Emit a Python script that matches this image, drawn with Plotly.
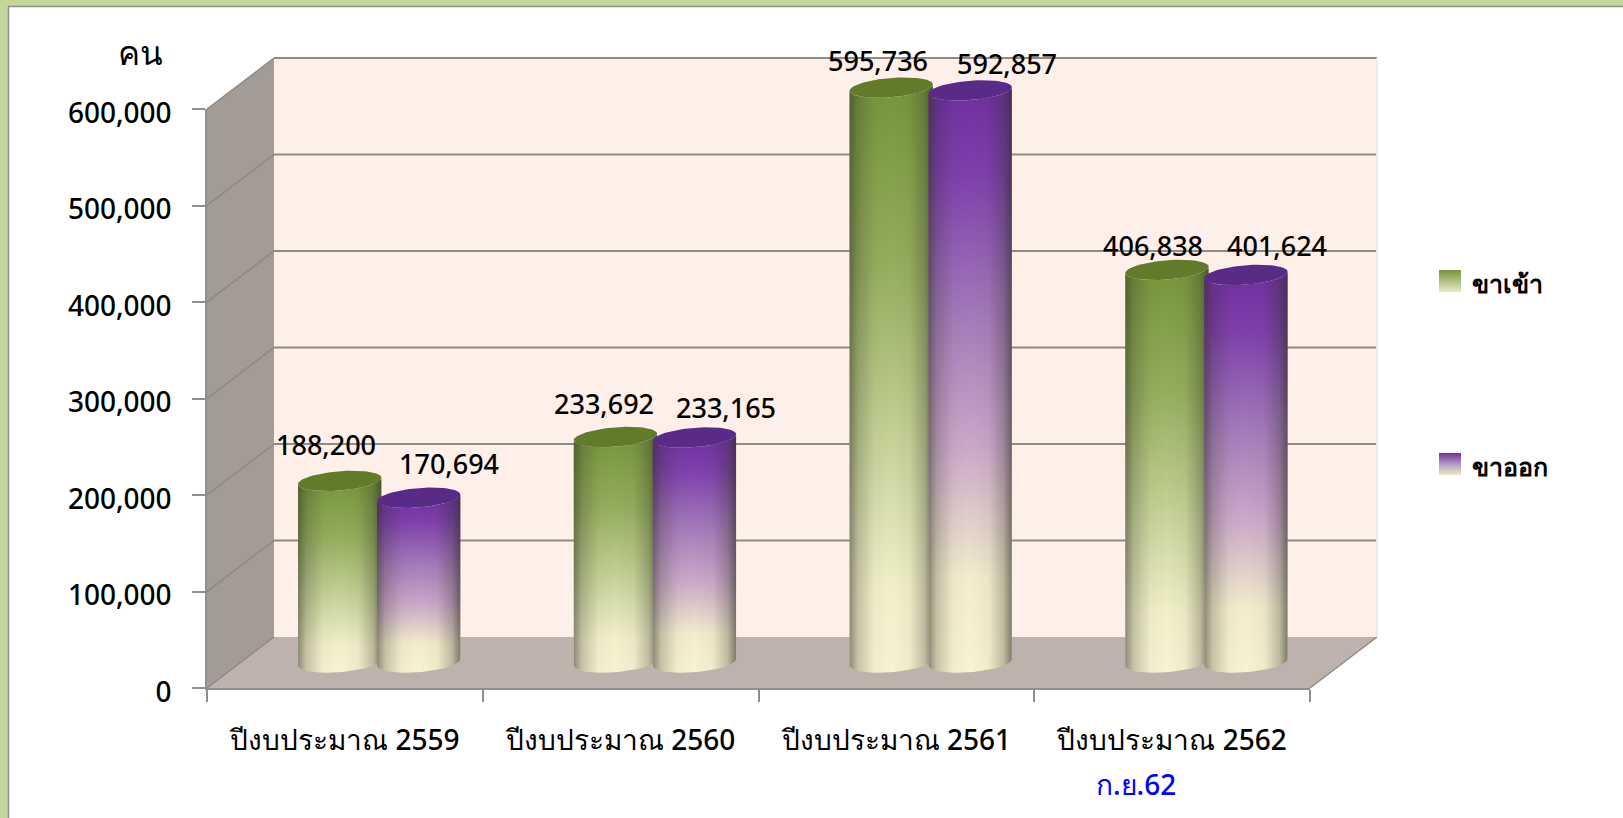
import math
import plotly.graph_objects as go

# ---- data ----
categories = ["ปีงบประมาณ 2559", "ปีงบประมาณ 2560", "ปีงบประมาณ 2561", "ปีงบประมาณ 2562"]
inbound = [188200, 233692, 595736, 406838]
outbound = [170694, 233165, 592857, 401624]
y_ticks = [0, 100000, 200000, 300000, 400000, 500000, 600000]
series_names = ["ขาเข้า", "ขาออก"]
unit_label = "คน"
note_label = "ก.ย.62"

# ---- styles ----
W, H = 1623, 818
L, R, T, B = 207, 1310, 109, 688
U = (R - L) / len(categories)      # px per category
V = (B - T) / max(y_ticks)         # px per person
DEPTH_X, DEPTH_Y = 67, 51          # px of the oblique depth
FONT = "Noto Sans, Tahoma, sans-serif"
WEIGHT = 500
INK = "#000000"
GRID = "#8f8b82"
WALL = "#feefe8"
SIDE = "#a39b94"
FLOOR = "#bdb2ac"
GREEN_SCALE = [[0, "#f7f3d3"], [0.14, "#f2f0ca"], [0.38, "#c8d39a"], [0.7, "#93ad5c"], [1, "#74953a"]]
PURPLE_SCALE = [[0, "#f8f3d2"], [0.16, "#f3edcc"], [0.38, "#cbaac9"], [0.62, "#a278b9"], [0.85, "#7f3fac"], [1, "#6f2fa0"]]
GREEN_TOP = "#617b2b"
PURPLE_TOP = "#5a2a87"
SHADE = [[0, "rgba(45,45,35,0.52)"], [0.1, "rgba(45,45,35,0.24)"], [0.3, "rgba(45,45,35,0.03)"],
         [0.5, "rgba(45,45,35,0)"], [0.72, "rgba(45,45,35,0.04)"], [0.9, "rgba(45,45,35,0.28)"],
         [1, "rgba(45,45,35,0.6)"]]
BAR_A, BAR_S, BAR_H = 39.5, 13.2, 10.2   # ellipse parameters, px
BAR_OFFSET = 39.5
GROUP_SHIFT = 0.8
label_shift_in = [(-14, -36), (-11, -33), (-13, -27), (-14, -24)]
label_shift_out = [(30, -34), (32, -30), (37, -27), (31, -29)]


def dx(px):
    return px / U


def dy(px):
    return px / V


def at_depth(xv, yv, depth):
    return xv + dx(DEPTH_X * depth), yv + dy(DEPTH_Y * depth)


def paper_x(px):
    return px / W


def paper_y(py):
    return 1 - py / H


def poly(xs, ys, color=None, line=None, width=0, gradient=None):
    kw = dict(x=xs, y=ys, mode="lines", hoverinfo="skip", showlegend=False,
              line=dict(color=line or "rgba(0,0,0,0)", width=width))
    if color or gradient:
        kw["fill"] = "toself"
    if color:
        kw["fillcolor"] = color
    if gradient:
        kw["fillgradient"] = gradient
    return go.Scatter(**kw)


fig = go.Figure()
n = len(categories)
top = max(y_ticks)

# walls and floor
c = [at_depth(0, 0, 1), at_depth(n, 0, 1), at_depth(n, top, 1), at_depth(0, top, 1)]
fig.add_trace(poly([p[0] for p in c] + [c[0][0]], [p[1] for p in c] + [c[0][1]], color=WALL))
s = [(0, 0), at_depth(0, 0, 1), at_depth(0, top, 1), (0, top)]
fig.add_trace(poly([p[0] for p in s] + [0], [p[1] for p in s] + [0], color=SIDE))
f = [(0, 0), (n, 0), at_depth(n, 0, 1), at_depth(0, 0, 1)]
fig.add_trace(poly([p[0] for p in f] + [0], [p[1] for p in f] + [0], color=FLOOR))

# grid
for v in y_ticks:
    a = at_depth(0, v, 1)
    b = at_depth(n, v, 1)
    if v:
        fig.add_trace(poly([a[0], b[0]], [a[1], b[1]], line=GRID, width=2))
    fig.add_trace(poly([0, a[0]], [v, a[1]], line="#8a857e", width=1.2))
e = at_depth(n, 0, 1)
fig.add_trace(poly([n, e[0]], [0, e[1]], line=GRID, width=1.5))
t1 = at_depth(n, top, 1)
fig.add_trace(poly([e[0], t1[0]], [e[1], t1[1]], line="#f2e8e0", width=2))


# cylinders
def cylinder(cx, value, scale, top_color):
    cx0, cy0 = at_depth(cx, 0, 0.5)
    t0 = math.atan2(BAR_S, BAR_A)
    ts = [t0 - math.pi + math.pi * i / 40 for i in range(41)]
    ex = [cx0 + dx(BAR_A * math.cos(t) + BAR_S * math.sin(t)) for t in ts]
    ey = [dy(BAR_H * math.sin(t)) for t in ts]
    bx = ex + ex[::-1] + [ex[0]]
    by = [cy0 + value + q for q in ey] + [cy0 + q for q in ey[::-1]] + [cy0 + value + ey[0]]
    fig.add_trace(poly(bx, by, gradient=dict(type="vertical", colorscale=scale)))
    fig.add_trace(poly(bx, by, gradient=dict(type="horizontal", colorscale=SHADE)))
    ts2 = [2 * math.pi * i / 80 for i in range(81)]
    tx = [cx0 + dx(BAR_A * math.cos(t) + BAR_S * math.sin(t)) for t in ts2]
    ty = [cy0 + value + dy(BAR_H * math.sin(t)) for t in ts2]
    fig.add_trace(poly(tx, ty, color=top_color))
    return cx0, cy0 + value


annotations = []


def value_label(x, y, v, shift):
    annotations.append(dict(x=x, y=y, xref="x", yref="y", text=f"{v:,}", showarrow=False,
                            xanchor="center", yanchor="middle", xshift=shift[0], yshift=-shift[1],
                            font=dict(family=FONT, size=27, color=INK, weight=WEIGHT)))


for i in range(n):
    centre = i + 0.5 + dx(GROUP_SHIFT)
    p = cylinder(centre - dx(BAR_OFFSET), inbound[i], GREEN_SCALE, GREEN_TOP)
    value_label(p[0], p[1], inbound[i], label_shift_in[i])
    q = cylinder(centre + dx(BAR_OFFSET), outbound[i], PURPLE_SCALE, PURPLE_TOP)
    value_label(q[0], q[1], outbound[i], label_shift_out[i])


# legend swatches (gradient squares) and labels
def px_x(px):
    return (px - L) / U


def px_y(py):
    return (B - py) / V


for name, scale, sy in zip(series_names,
                           [[[0, "#ece8c8"], [1, "#76953a"]], [[0, "#ece8c8"], [0.45, "#b9a3c4"], [1, "#6f2fa0"]]],
                           [270, 453]):
    xs = [px_x(1439), px_x(1461), px_x(1461), px_x(1439), px_x(1439)]
    ys = [px_y(sy), px_y(sy), px_y(sy + 22), px_y(sy + 22), px_y(sy)]
    fig.add_trace(poly(xs, ys, gradient=dict(type="vertical", colorscale=scale)))
    annotations.append(dict(x=paper_x(1470), y=paper_y(sy + 13), xref="paper", yref="paper", text=name,
                            showarrow=False, xanchor="left", yanchor="middle",
                            font=dict(family=FONT, size=25, color=INK, weight=600)))

annotations.append(dict(x=paper_x(140), y=paper_y(53), xref="paper", yref="paper", text=unit_label,
                        showarrow=False, xanchor="center", yanchor="middle",
                        font=dict(family=FONT, size=33, color=INK, weight=WEIGHT)))
annotations.append(dict(x=paper_x(1136), y=paper_y(784), xref="paper", yref="paper", text=note_label,
                        showarrow=False, xanchor="center", yanchor="middle",
                        font=dict(family=FONT, size=28, color="#0000ff", weight=WEIGHT)))

frame = [
    dict(type="rect", xref="paper", yref="paper", x0=0, x1=1, y0=paper_y(0), y1=paper_y(6),
         fillcolor="#c5d69b", line_width=0, layer="below"),
    dict(type="rect", xref="paper", yref="paper", x0=0, x1=paper_x(8), y0=0, y1=1,
         fillcolor="#c5d69b", line_width=0, layer="below"),
    dict(type="line", xref="paper", yref="paper", x0=paper_x(8), x1=1, y0=paper_y(6.5), y1=paper_y(6.5),
         line=dict(color="#8f8f8f", width=1.5), layer="below"),
    dict(type="line", xref="paper", yref="paper", x0=paper_x(8.5), x1=paper_x(8.5), y0=0, y1=paper_y(6),
         line=dict(color="#8f8f8f", width=1.5), layer="below"),
]

# carrier of the visible axes, drawn above the marks
fig.add_trace(go.Scatter(x=[i + 0.5 for i in range(n)], y=inbound, mode="markers", marker=dict(opacity=0),
                         xaxis="x2", yaxis="y2", hoverinfo="skip", showlegend=False))

fig.update_layout(
    width=W, height=H, autosize=False,
    margin=dict(l=0, r=0, t=0, b=0, pad=0, autoexpand=False),
    paper_bgcolor="#ffffff", plot_bgcolor="rgba(0,0,0,0)",
    showlegend=False, annotations=annotations, shapes=frame,
    # full-page axes carrying the marks, at the same scale as the visible axes
    xaxis=dict(domain=[0, 1], range=[(0 - L) / U, (W - L) / U], visible=False, fixedrange=True, automargin=False),
    yaxis=dict(domain=[0, 1], range=[(B - H) / V, B / V], visible=False, fixedrange=True, automargin=False),
    xaxis2=dict(domain=[L / W, R / W], range=[0, n], anchor="y2", tickmode="array", automargin=False,
                tickvals=[i + 0.5 for i in range(n)], ticktext=categories,
                ticks="", showgrid=False, zeroline=False, showline=True, linecolor="#8f8f8f", linewidth=2,
                tickfont=dict(family=FONT, size=28, color=INK, weight=WEIGHT), ticklabelstandoff=26,
                minor=dict(tickmode="array", tickvals=list(range(n + 1)), ticks="outside", ticklen=12,
                           tickwidth=1.5, tickcolor="#8f8f8f", showgrid=False)),
    yaxis2=dict(domain=[1 - B / H, 1 - T / H], range=[0, top], anchor="x2", tickmode="array", tickvals=y_ticks,
                tickformat=",", ticks="outside", ticklen=13, automargin=False,
                tickwidth=1.5, tickcolor="#8f8f8f", showgrid=False, zeroline=False, showline=True,
                linecolor="#8f8f8f", linewidth=1.5, tickfont=dict(family=FONT, size=28, color=INK, weight=WEIGHT),
                ticklabelstandoff=15, ticklabelshift=4),
)

fig.write_html("out.html", config={"displayModeBar": False},
               post_script="document.body.style.margin='0';document.body.style.overflow='hidden';")
